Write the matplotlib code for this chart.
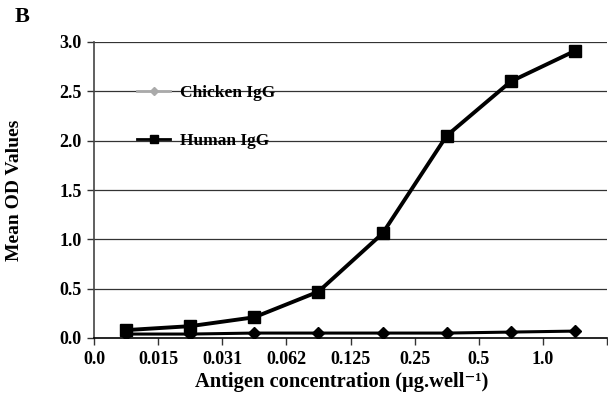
import matplotlib
matplotlib.use('Agg')
import matplotlib.pyplot as plt
from matplotlib.lines import Line2D

plt.rcParams['font.family'] = ['Liberation Serif', 'DejaVu Serif']
plt.rcParams['font.weight'] = 'bold'

# antigen concentration categories (tick labels sit on the category edges)
tick_labels = ['0.0', '0.015', '0.031', '0.062', '0.125', '0.25', '0.5', '1.0', '']
chicken_igg = [0.04, 0.04, 0.05, 0.05, 0.05, 0.05, 0.06, 0.07]
human_igg = [0.08, 0.12, 0.21, 0.47, 1.06, 2.05, 2.60, 2.91]
y_ticks = [0.0, 0.5, 1.0, 1.5, 2.0, 2.5, 3.0]

x = [i + 0.5 for i in range(len(human_igg))]

fig = plt.figure(figsize=(6.08, 4.08), dpi=100)
ax = fig.add_axes([94 / 608, 1 - 338 / 408, 513 / 608, 296 / 408])

for y in y_ticks[1:]:
    ax.axhline(y, color='#333333', lw=0.9, zorder=1)

ax.plot(x, chicken_igg, color='black', lw=2.2, marker='D', markersize=6.5, zorder=3)
ax.plot(x, human_igg, color='black', lw=2.8, marker='s', markersize=8, zorder=4)

ax.set_xlim(0, 8)
ax.set_ylim(0, 3)
ax.set_xticks(range(len(tick_labels)))
ax.set_xticklabels(tick_labels, fontsize=13, fontweight='bold')
ax.set_yticks(y_ticks)
ax.set_yticklabels([f'{v:.1f}' for v in y_ticks], fontsize=13, fontweight='bold')
ax.tick_params(axis='both', direction='out', length=5, width=1, color='#333333', pad=4)

for s in ['top', 'right']:
    ax.spines[s].set_visible(False)
ax.spines['left'].set_color('#444444')
ax.spines['bottom'].set_color('black')
ax.spines['left'].set_linewidth(1.2)
ax.spines['bottom'].set_linewidth(1.2)

ax.set_xlabel('Antigen concentration (\u00b5g.well\u207b\u00b9)', fontsize=14.8,
              fontweight='bold')
ax.xaxis.set_label_coords((342 - 94) / 513, -34 / 296)
ax.set_ylabel('Mean OD Values', fontsize=14, fontweight='bold')
ax.yaxis.set_label_coords(-(94 - 23) / 513, 0.5)

handles = [
    Line2D([], [], color='#aaaaaa', lw=2, marker='D', markersize=4),
    Line2D([], [], color='black', lw=2, marker='s', markersize=6),
]
ax.legend(handles, ['Chicken IgG', 'Human IgG'], loc='upper left',
          bbox_to_anchor=(0.084, 0.855), frameon=False,
          handlelength=1.9, handletextpad=0.55, labelspacing=1.85,
          borderpad=0, borderaxespad=0, prop={'weight': 'bold', 'size': 12.5})

fig.text(22 / 608, 1 - 17 / 408, 'B', fontsize=16, fontweight='bold',
         ha='center', va='center')

fig.savefig('out.png', dpi=100, facecolor='white')
